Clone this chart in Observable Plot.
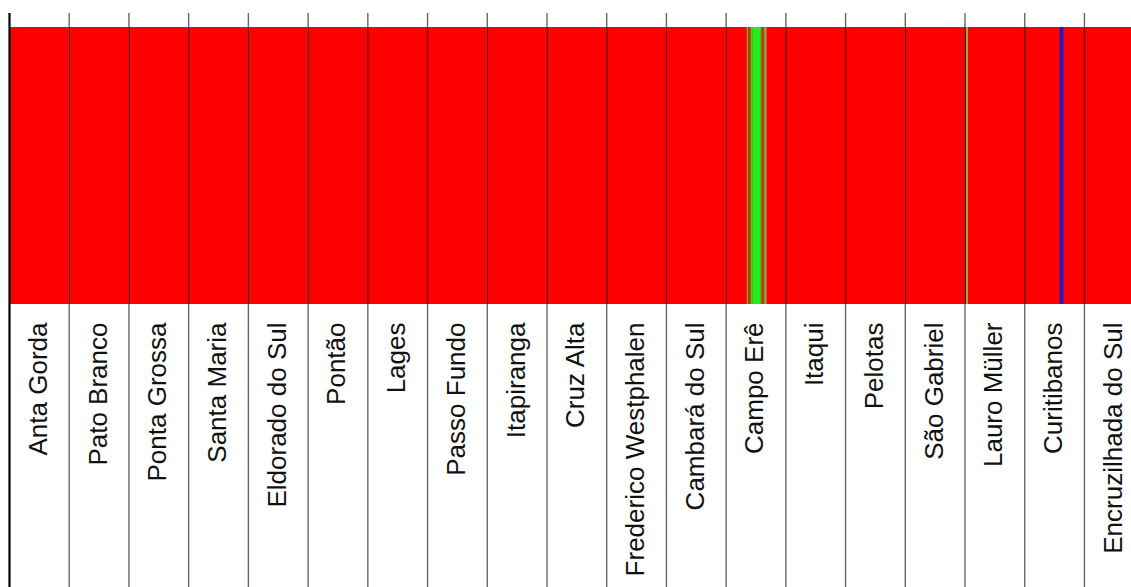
<!DOCTYPE html>
<html><head><meta charset="utf-8">
<script src="https://cdn.jsdelivr.net/npm/d3@7"></script>
<script src="https://cdn.jsdelivr.net/npm/@observablehq/plot@0.6"></script>
<style>html,body{margin:0;padding:0;background:#fff;overflow:hidden}</style>
</head><body><div id="chart"></div>
<script>
// Populations in plot order
const populations = ["Anta Gorda","Pato Branco","Ponta Grossa","Santa Maria","Eldorado do Sul","Pontão","Lages","Passo Fundo","Itapiranga","Cruz Alta","Frederico Westphalen","Cambará do Sul","Campo Erê","Itaqui","Pelotas","São Gabriel","Lauro Müller","Curitibanos","Encruzilhada do Sul"];
const individualsPerPop = 30;
// Non-red (other cluster) stripes, in individual units within a population
const stripePop   = ["Campo Erê","Campo Erê","Campo Erê","Campo Erê","Campo Erê","Campo Erê","Campo Erê","Lauro Müller","Curitibanos","Curitibanos","Curitibanos"];
const stripeStart = [10.6, 11.4, 12.6, 13.4, 17.3, 18.1, 19.3, 0.75, 17.6, 18.0, 19.6];
const stripeEnd   = [11.4, 12.6, 13.4, 17.3, 18.1, 19.3, 20.6, 1.75, 18.0, 19.6, 20.0];
const stripeColor = ["#9c9a3a","#7b5a08","#7fb52a","#1ef01e","#8fa03a","#7b5a08","#a09a40","#b4a048","#7a1490","#2a14c0","#7a1490"];

const popData = populations.map((name, i) => ({name, i}));
const stripes = stripePop.map((p, k) => {
  const i = populations.indexOf(p);
  return {x1: i*individualsPerPop + stripeStart[k], x2: i*individualsPerPop + stripeEnd[k], color: stripeColor[k]};
});
const boundaries = d3.range(1, populations.length).map(i => i*individualsPerPop);

const plot = Plot.plot({
  width: 1131, height: 587,
  marginTop: 13, marginBottom: 0, marginLeft: 0, marginRight: 0,
  style: {fontFamily: "'Liberation Sans', Arial, sans-serif", background: "#fff"},
  x: {type: "linear", domain: [0, populations.length*individualsPerPop], range: [9, 9 + populations.length*59.72], axis: null},
  y: {domain: [0, 1], range: [304, 27], axis: null},
  color: {type: "identity"},
  marks: [
    Plot.rect(popData, {x1: d => d.i*individualsPerPop, x2: d => (d.i+1)*individualsPerPop, y1: 0, y2: 1, fill: "#ff0000"}),
    Plot.rect(stripes, {x1: "x1", x2: "x2", y1: 0, y2: 1, fill: "color"}),
    Plot.ruleX(boundaries, {stroke: "#000", strokeOpacity: 0.6, strokeWidth: 1.4}),
    Plot.ruleX([0], {stroke: "#000", strokeWidth: 2.2}),
    Plot.text(popData, {x: d => (d.i+0.5)*individualsPerPop, text: "name", rotate: -90, textAnchor: "end", frameAnchor: "top", dx: -11, dy: 309, fontSize: 26, fill: "#111"})
  ]
});
document.getElementById("chart").appendChild(plot);
</script>
</body></html>
